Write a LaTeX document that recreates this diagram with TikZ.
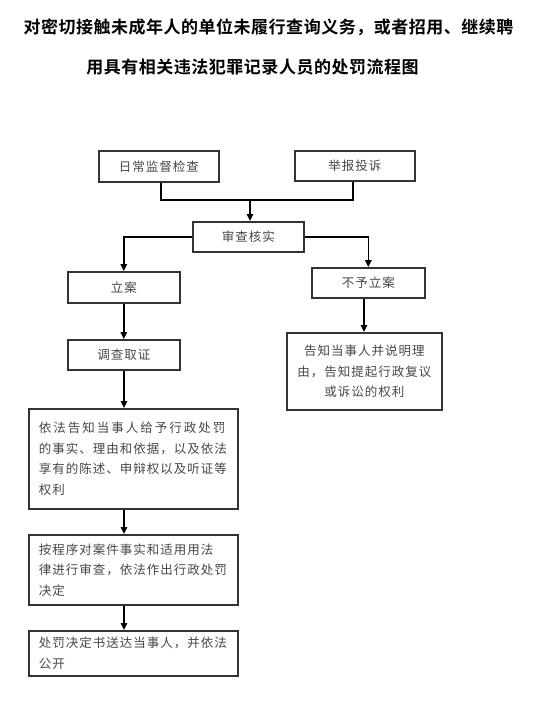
\documentclass[tikz,border=0pt]{standalone}
\usepackage{fontspec}
\setmainfont{Noto Sans CJK SC}[LetterSpace=8]
\newfontfamily\titlefont{Noto Sans CJK SC}[LetterSpace=3,BoldFont=* Bold]
\newfontfamily\widefont{Noto Sans CJK SC}[LetterSpace=16]
\usetikzlibrary{arrows.meta}
\tikzset{
  box/.style={draw=black!80, line width=1.6pt, rectangle, anchor=north west, inner sep=0pt,
    font=\fontsize{12.5}{20.5}\selectfont, text=black!72},
  txtbox/.style={box, align=left},
  conn/.style={draw=black, line width=1.5pt},
  arr/.style={conn, -{Triangle[length=7pt,width=6.5pt]}},
  ttl/.style={font=\titlefont\bfseries\fontsize{17}{20}\selectfont, text=black}
}
\begin{document}
\begin{tikzpicture}[x=1pt,y=-1pt]
\useasboundingbox (0,0) rectangle (555,701);
\fill[white] (0,0) rectangle (555,701);
\node[ttl] (t1) at (268.5,27) {对密切接触未成年人的单位未履行查询义务，或者招用、继续聘};
\node[ttl] (t2) at (252.5,67) {用具有相关违法犯罪记录人员的处罚流程图};

\node[box, minimum width=120pt, minimum height=31pt] (a) at (98,150) {日常监督检查};
\node[box, minimum width=120pt, minimum height=30pt] (b) at (294,150) {举报投诉};
\node[box, minimum width=111pt, minimum height=30pt] (c) at (192,221) {审查核实};
\node[box, minimum width=112pt, minimum height=31pt] (d) at (67,271) {立案};
\node[box, minimum width=113pt, minimum height=30pt] (e) at (311,267) {不予立案};
\node[box, minimum width=112pt, minimum height=30pt] (f) at (67,339) {调查取证};
\node[box, align=center, minimum width=155pt, minimum height=77pt] (g) at (286,332)
  {告知当事人并说明理\\由，告知提起行政复议\\或诉讼的权利};
\node[txtbox, minimum width=209pt, minimum height=100pt, text width=189pt] (h) at (28,408)
  {{\widefont 依法告知当事人给予行政处罚}\\的事实、理由和依据，以及依法\\享有的陈述、申辩权以及听证等\\权利};
\node[txtbox, minimum width=209pt, minimum height=70pt, text width=189pt] (i) at (28,534)
  {按程序对案件事实和适用用法\\律进行审查，依法作出行政处罚\\决定};
\node[txtbox, minimum width=209pt, minimum height=45pt, text width=189pt] (j) at (28,630)
  {处罚决定书送达当事人，并依法\\公开};

\coordinate (ja) at (161,200);
\coordinate (jb) at (353,200);
\coordinate (jm) at (250,200);
\draw[conn] (ja |- a.south) -- (ja) -- (jb) -- (jb |- b.south);
\draw[arr] (jm) -- (jm |- c.north);
\draw[arr] (c.west) -| (d.north);
\draw[arr] (c.east) -| (e.north);
\coordinate (eg) at (364,0);
\draw[arr] (eg |- e.south) -- (eg |- g.north);
\draw[arr] (d.south) -- (f.north);
\coordinate (lc) at (124,0);
\draw[arr] (lc |- f.south) -- (lc |- h.north);
\draw[arr] (lc |- h.south) -- (lc |- i.north);
\draw[arr] (lc |- i.south) -- (lc |- j.north);
\end{tikzpicture}
\end{document}
